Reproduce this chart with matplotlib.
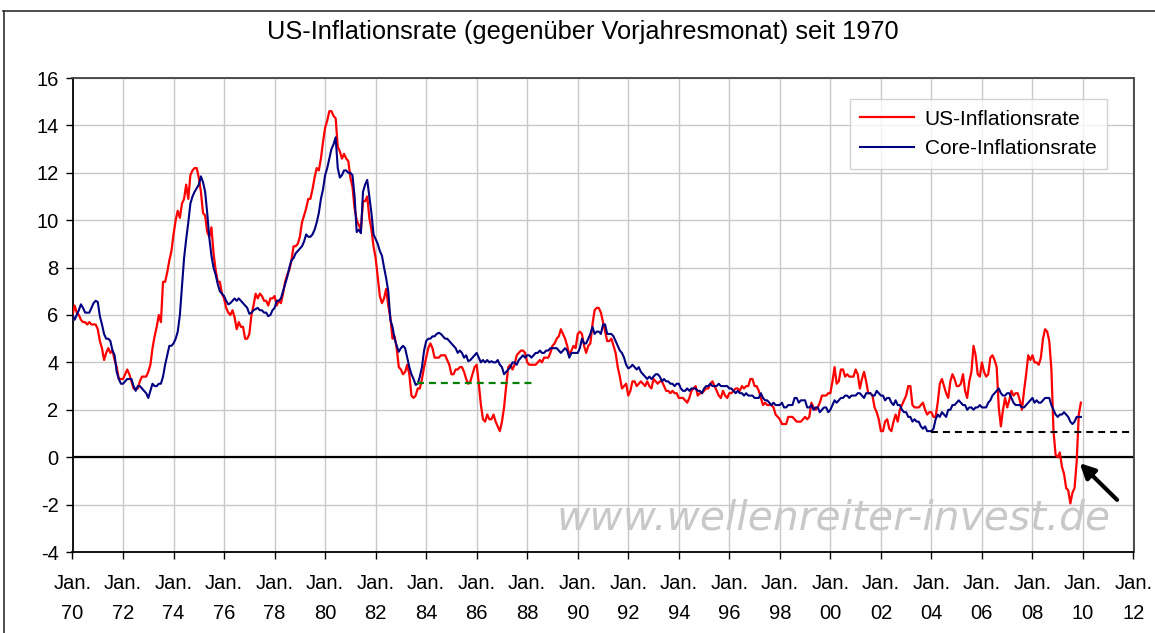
import matplotlib
matplotlib.use("Agg")
import matplotlib.pyplot as plt
import numpy as np
from matplotlib.lines import Line2D

plt.rcParams['font.family'] = ['Liberation Sans', 'DejaVu Sans']
plt.rcParams['lines.scale_dashes'] = False

# ---------------- data (monthly, Jan 1970 - Dec 2009, % yoy) ----------------
start_year = 1970
inflation = [
    6.0, 6.4, 6.1, 6.0, 5.8, 5.7, 5.7, 5.6, 5.7, 5.6, 5.6, 5.6,   # 1970
    5.4, 4.9, 4.6, 4.1, 4.4, 4.6, 4.4, 4.5, 4.1, 3.8, 3.3, 3.3,   # 1971
    3.3, 3.5, 3.7, 3.5, 3.2, 2.9, 2.9, 2.9, 3.2, 3.4, 3.4, 3.4,   # 1972
    3.6, 3.9, 4.6, 5.1, 5.5, 6.0, 5.7, 7.4, 7.4, 7.8, 8.3, 8.7,   # 1973
    9.4, 10.0, 10.4, 10.1, 10.7, 10.9, 11.5, 10.9, 11.9, 12.1, 12.2, 12.2,  # 1974
    11.8, 11.2, 10.3, 10.2, 9.5, 9.3, 9.7, 8.6, 7.9, 7.4, 7.4, 6.9,  # 1975
    6.7, 6.3, 6.1, 6.0, 6.2, 5.9, 5.4, 5.7, 5.5, 5.5, 5.0, 5.0,   # 1976
    5.2, 6.0, 6.4, 6.9, 6.7, 6.9, 6.8, 6.6, 6.6, 6.4, 6.7, 6.7,   # 1977
    6.8, 6.4, 6.6, 6.5, 6.9, 7.4, 7.7, 7.9, 8.3, 8.9, 8.9, 9.0,   # 1978
    9.3, 9.9, 10.2, 10.5, 10.9, 10.9, 11.3, 11.8, 12.2, 12.1, 12.6, 13.3,  # 1979
    13.9, 14.2, 14.6, 14.6, 14.4, 14.3, 13.1, 12.9, 12.6, 12.8, 12.6, 12.5,  # 1980
    11.8, 11.4, 10.5, 10.0, 9.8, 9.6, 10.8, 10.8, 11.0, 10.1, 9.6, 8.9,  # 1981
    8.4, 7.6, 6.8, 6.5, 6.7, 7.1, 6.4, 5.9, 5.0, 5.1, 4.6, 3.8,   # 1982
    3.7, 3.5, 3.6, 3.9, 3.5, 2.6, 2.5, 2.6, 2.9, 2.9, 3.3, 3.8,   # 1983
    4.2, 4.6, 4.8, 4.6, 4.2, 4.2, 4.2, 4.3, 4.3, 4.3, 4.1, 3.9,   # 1984
    3.5, 3.5, 3.7, 3.7, 3.8, 3.8, 3.6, 3.3, 3.1, 3.2, 3.5, 3.8,   # 1985
    3.9, 3.1, 2.2, 1.6, 1.5, 1.8, 1.6, 1.6, 1.8, 1.5, 1.3, 1.1,   # 1986
    1.5, 2.1, 3.0, 3.8, 3.9, 3.7, 3.9, 4.3, 4.4, 4.5, 4.5, 4.4,   # 1987
    4.0, 3.9, 3.9, 3.9, 3.9, 4.0, 4.1, 4.0, 4.2, 4.2, 4.2, 4.4,   # 1988
    4.7, 4.8, 5.0, 5.1, 5.4, 5.2, 5.0, 4.7, 4.3, 4.5, 4.7, 4.6,   # 1989
    5.2, 5.3, 5.2, 4.7, 4.4, 4.7, 4.8, 5.6, 6.2, 6.3, 6.3, 6.1,   # 1990
    5.7, 5.3, 4.9, 4.9, 5.0, 4.7, 4.4, 3.8, 3.4, 2.9, 3.0, 3.1,   # 1991
    2.6, 2.8, 3.2, 3.2, 3.0, 3.1, 3.2, 3.1, 3.0, 3.2, 3.0, 2.9,   # 1992
    3.3, 3.2, 3.1, 3.2, 3.2, 3.0, 2.8, 2.8, 2.7, 2.8, 2.7, 2.7,   # 1993
    2.5, 2.5, 2.5, 2.4, 2.3, 2.5, 2.8, 2.9, 3.0, 2.6, 2.7, 2.7,   # 1994
    2.8, 2.9, 2.9, 3.1, 3.2, 3.0, 2.8, 2.6, 2.5, 2.8, 2.6, 2.5,   # 1995
    2.7, 2.7, 2.8, 2.9, 2.9, 2.8, 3.0, 2.9, 3.0, 3.0, 3.3, 3.3,   # 1996
    3.0, 3.0, 2.8, 2.5, 2.2, 2.3, 2.2, 2.2, 2.2, 2.1, 1.8, 1.7,   # 1997
    1.6, 1.4, 1.4, 1.4, 1.7, 1.7, 1.7, 1.6, 1.5, 1.5, 1.5, 1.6,   # 1998
    1.7, 1.6, 1.7, 2.3, 2.1, 2.0, 2.1, 2.3, 2.6, 2.6, 2.6, 2.7,   # 1999
    2.7, 3.2, 3.8, 3.1, 3.2, 3.7, 3.7, 3.4, 3.5, 3.4, 3.4, 3.4,   # 2000
    3.7, 3.5, 2.9, 3.3, 3.6, 3.2, 2.7, 2.7, 2.6, 2.1, 1.9, 1.6,   # 2001
    1.1, 1.1, 1.5, 1.6, 1.2, 1.1, 1.5, 1.8, 1.5, 2.0, 2.2, 2.4,   # 2002
    2.6, 3.0, 3.0, 2.2, 2.1, 2.1, 2.1, 2.2, 2.3, 2.0, 1.8, 1.9,   # 2003
    1.9, 1.7, 1.7, 2.3, 3.1, 3.3, 3.0, 2.7, 2.5, 3.2, 3.5, 3.3,   # 2004
    3.0, 3.0, 3.1, 3.5, 2.8, 2.5, 3.2, 3.6, 4.7, 4.3, 3.5, 3.4,   # 2005
    4.0, 3.6, 3.4, 3.5, 4.2, 4.3, 4.1, 3.8, 2.1, 1.3, 2.0, 2.5,   # 2006
    2.1, 2.4, 2.8, 2.6, 2.7, 2.7, 2.4, 2.0, 2.8, 3.5, 4.3, 4.1,   # 2007
    4.3, 4.0, 4.0, 3.9, 4.2, 5.0, 5.4, 5.3, 4.9, 3.7, 1.1, 0.1,   # 2008
    0.0, 0.2, -0.4, -0.7, -1.3, -1.4, -1.95, -1.5, -1.3, -0.2, 1.8, 2.3,  # 2009
]
core_inflation = [
    6.0, 5.8, 6.0, 6.2, 6.45, 6.3, 6.1, 6.1, 6.1, 6.3, 6.5, 6.6,  # 1970
    6.55, 5.95, 5.6, 5.2, 5.0, 5.0, 4.9, 4.5, 4.3, 3.6, 3.3, 3.1,  # 1971
    3.1, 3.2, 3.3, 3.3, 3.3, 3.0, 2.8, 3.0, 3.0, 2.9, 2.8, 2.7,   # 1972
    2.5, 2.8, 3.1, 3.0, 3.0, 3.1, 3.1, 3.4, 3.9, 4.3, 4.7, 4.7,   # 1973
    4.8, 5.0, 5.3, 6.0, 7.2, 8.4, 9.2, 9.9, 10.7, 11.0, 11.2, 11.35,  # 1974
    11.5, 11.85, 11.6, 11.2, 10.3, 9.25, 8.5, 8.0, 7.7, 7.3, 7.0, 6.9,  # 1975
    6.8, 6.6, 6.45, 6.5, 6.6, 6.7, 6.6, 6.7, 6.6, 6.5, 6.4, 6.3,  # 1976
    6.05, 6.1, 6.2, 6.25, 6.3, 6.2, 6.2, 6.1, 6.1, 5.95, 6.0, 6.2,  # 1977
    6.3, 6.6, 6.6, 6.7, 7.0, 7.3, 7.6, 8.0, 8.3, 8.4, 8.6, 8.7,   # 1978
    8.8, 8.9, 9.1, 9.4, 9.3, 9.3, 9.4, 9.6, 9.9, 10.3, 10.9, 11.3,  # 1979
    11.9, 12.2, 12.6, 13.0, 13.2, 13.5, 12.2, 11.8, 11.9, 12.1, 12.1, 12.0,  # 1980
    12.0, 11.9, 11.0, 9.5, 9.6, 9.45, 11.2, 11.5, 11.7, 11.0, 10.3, 9.4,  # 1981
    9.2, 9.0, 8.7, 8.5, 8.0, 7.55, 7.0, 5.8, 5.5, 5.0, 4.7, 4.45,  # 1982
    4.6, 4.7, 4.6, 4.2, 3.8, 3.5, 3.3, 3.05, 3.1, 3.4, 3.8, 4.5,  # 1983
    4.9, 5.0, 5.0, 5.1, 5.1, 5.2, 5.25, 5.2, 5.1, 5.0, 5.0, 4.9,  # 1984
    4.8, 4.7, 4.6, 4.4, 4.5, 4.4, 4.2, 4.3, 4.05, 4.1, 4.2, 4.3,  # 1985
    4.4, 4.2, 4.0, 4.1, 4.0, 4.1, 4.0, 4.05, 4.0, 4.0, 4.1, 3.9,  # 1986
    3.8, 3.5, 3.6, 3.7, 3.8, 4.0, 4.0, 3.9, 4.1, 4.2, 4.3, 4.2,   # 1987
    4.3, 4.3, 4.2, 4.3, 4.4, 4.4, 4.5, 4.4, 4.4, 4.5, 4.5, 4.6,   # 1988
    4.6, 4.6, 4.6, 4.5, 4.4, 4.5, 4.6, 4.5, 4.2, 4.4, 4.4, 4.4,   # 1989
    4.4, 4.6, 5.0, 4.8, 4.8, 5.0, 5.2, 5.5, 5.2, 5.3, 5.3, 5.2,   # 1990
    5.6, 5.6, 5.2, 5.2, 5.2, 5.1, 4.9, 4.7, 4.5, 4.4, 4.2, 3.9,   # 1991
    3.75, 3.8, 3.9, 3.8, 3.7, 3.8, 3.6, 3.5, 3.4, 3.3, 3.4, 3.3,  # 1992
    3.4, 3.5, 3.5, 3.4, 3.2, 3.3, 3.2, 3.2, 3.1, 3.1, 3.0, 3.1,   # 1993
    3.1, 2.9, 2.8, 2.8, 2.9, 2.8, 2.9, 2.9, 2.9, 2.8, 2.8, 2.7,   # 1994
    2.9, 3.0, 3.0, 3.1, 3.0, 3.0, 3.0, 3.1, 3.0, 3.0, 3.0, 3.0,   # 1995
    2.9, 2.9, 2.8, 2.7, 2.8, 2.7, 2.7, 2.6, 2.7, 2.6, 2.6, 2.6,   # 1996
    2.5, 2.5, 2.5, 2.7, 2.5, 2.4, 2.4, 2.3, 2.2, 2.3, 2.2, 2.2,   # 1997
    2.2, 2.3, 2.1, 2.1, 2.2, 2.2, 2.2, 2.5, 2.5, 2.3, 2.4, 2.4,   # 1998
    2.4, 2.1, 2.1, 2.2, 2.0, 2.1, 2.1, 1.9, 2.0, 2.1, 2.1, 1.9,   # 1999
    2.0, 2.2, 2.4, 2.3, 2.4, 2.5, 2.5, 2.6, 2.6, 2.5, 2.6, 2.6,   # 2000
    2.6, 2.7, 2.7, 2.6, 2.5, 2.7, 2.7, 2.7, 2.6, 2.6, 2.8, 2.7,   # 2001
    2.6, 2.6, 2.4, 2.5, 2.5, 2.3, 2.2, 2.4, 2.2, 2.2, 2.0, 1.9,   # 2002
    1.9, 1.7, 1.7, 1.5, 1.6, 1.5, 1.5, 1.3, 1.2, 1.3, 1.1, 1.1,   # 2003
    1.1, 1.2, 1.6, 1.8, 1.7, 1.9, 1.8, 1.7, 2.0, 2.0, 2.2, 2.2,   # 2004
    2.3, 2.4, 2.3, 2.2, 2.2, 2.0, 2.1, 2.1, 2.0, 2.1, 2.1, 2.2,   # 2005
    2.1, 2.1, 2.1, 2.3, 2.4, 2.6, 2.7, 2.8, 2.9, 2.7, 2.6, 2.6,   # 2006
    2.7, 2.7, 2.5, 2.3, 2.2, 2.2, 2.2, 2.1, 2.1, 2.2, 2.3, 2.4,   # 2007
    2.5, 2.3, 2.4, 2.3, 2.3, 2.4, 2.5, 2.5, 2.5, 2.2, 2.0, 1.8,   # 2008
    1.7, 1.8, 1.8, 1.9, 1.8, 1.7, 1.5, 1.4, 1.5, 1.7, 1.7, 1.7,   # 2009
]
tick_years = list(range(1970, 2013, 2))
tick_labels = ["Jan.\n%02d" % (y % 100) for y in tick_years]
y_ticks = list(range(-4, 17, 2))
series_names = ["US-Inflationsrate", "Core-Inflationsrate"]
title = "US-Inflationsrate (gegenüber Vorjahresmonat) seit 1970"
watermark = "www.wellenreiter-invest.de"
# reference levels drawn as dashed lines: (start year, end year, level)
green_level = (1983.62, 1988.3, 3.15)
black_level = (2003.98, 2012.0, 1.05)

# ---------------- figure ----------------
W, H = 1155, 633
fig = plt.figure(figsize=(W / 100, H / 100), dpi=100)
ax = fig.add_axes([72.5 / W, 1 - 552 / H, (1133.5 - 72.5) / W, (552 - 78) / H])

months = start_year + np.arange(len(inflation)) / 12.0
ax.plot(months, inflation, color='#ff0000', lw=1.6, label=series_names[0], zorder=3)
ax.plot(months[:len(core_inflation)], core_inflation, color='#000080', lw=1.5,
        label=series_names[1], zorder=4)

ax.axhline(0, color='black', lw=1.6, zorder=2)
ax.plot(green_level[:2], [green_level[2]] * 2, color='#008000', lw=1.6,
        dashes=(5, 3.6), zorder=5)
ax.plot(black_level[:2], [black_level[2]] * 2, color='black', lw=1.5,
        dashes=(5, 3.6), zorder=5)

ax.annotate("", xy=(2009.87, -0.25), xytext=(2011.35, -1.8),
            arrowprops=dict(arrowstyle='-|>', lw=3, color='black', mutation_scale=22,
                            shrinkA=0, shrinkB=0), zorder=6)

ax.text(0.717, 0.072, watermark, transform=ax.transAxes, ha='center', va='center',
        fontsize=29.3, style='italic', family='DejaVu Sans', color='#c8c8c8', zorder=1)

ax.set_xlim(1970, 2012)
ax.set_ylim(-4, 16)
ax.set_xticks(tick_years)
ax.set_xticklabels(tick_labels, linespacing=1.75)
ax.set_yticks(y_ticks)
ax.set_yticklabels([str(v) for v in y_ticks])
ax.grid(True, color='#c8c8c8', lw=1.0, zorder=0)
ax.set_axisbelow(True)
ax.tick_params(axis='both', labelsize=14.5, length=5, width=1, color='black', direction='out')
ax.tick_params(axis='x', pad=11)
ax.tick_params(axis='y', pad=5)
for s in ['left', 'bottom']:
    ax.spines[s].set_color('black')
    ax.spines[s].set_linewidth(1.3)
for s in ['top', 'right']:
    ax.spines[s].set_color('#404040')
    ax.spines[s].set_linewidth(1.3)

leg = ax.legend(loc='upper right', bbox_to_anchor=(0.975, 0.955), fontsize=15,
                frameon=True, fancybox=False, edgecolor='#c8c8c8', handlelength=2.6,
                borderpad=0.5, labelspacing=0.5, handletextpad=0.5, borderaxespad=0)
leg.get_frame().set_linewidth(1.0)

fig.text(583 / W, 1 - 32 / H, title, ha='center', va='center', fontsize=18.3)

# outer chart frame
fig.add_artist(Line2D([3 / W, 1.0], [1 - 10.5 / H, 1 - 10.5 / H], color='#303030', lw=1.2,
                      transform=fig.transFigure))
fig.add_artist(Line2D([3.5 / W, 3.5 / W], [0, 1 - 10.5 / H], color='#303030', lw=1.2,
                      transform=fig.transFigure))

fig.savefig("out.png", dpi=100)
